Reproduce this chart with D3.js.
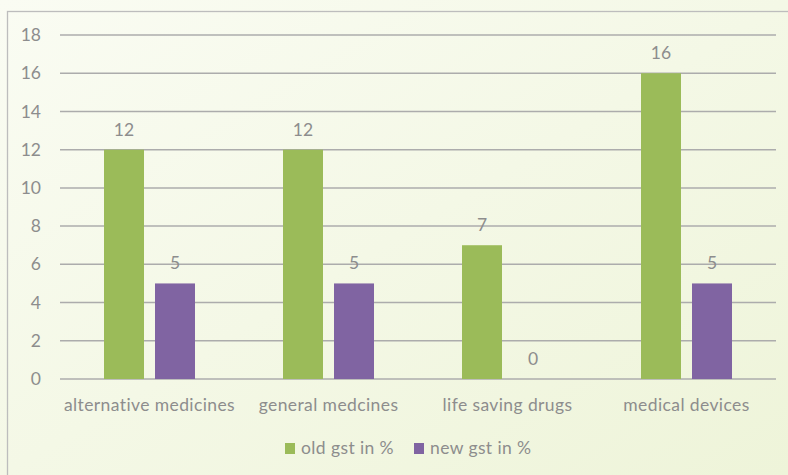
<!DOCTYPE html>
<html>
<head>
<meta charset="utf-8">
<script src="https://cdn.jsdelivr.net/npm/d3@7"></script>
<style>
  html, body { margin: 0; padding: 0; background: #fff; }
  svg { display: block; font-family: Lato, "Open Sans", sans-serif; }
</style>
</head>
<body>
<svg class="barsvg" width="788" height="475"></svg>
<script>
var categories = ["alternative medicines", "general medcines", "life saving drugs", "medical devices"];
var seriesNames = ["old gst in %", "new gst in %"];
var oldGst = [12, 12, 7, 16];
var newGst = [5, 5, 0, 5];
var yTicks = [0, 2, 4, 6, 8, 10, 12, 14, 16, 18];
var colors = ["#9bbb59", "#8064a2"];

var svg = d3.select(".barsvg"),
    width = +svg.attr("width"),
    height = +svg.attr("height");

var textColor = "#8d8d8d";
var fontSize = "17.5px";

// background gradient + frame
var defs = svg.append("defs");
var grad = defs.append("linearGradient")
    .attr("id", "bg")
    .attr("x1", "0").attr("y1", "0")
    .attr("x2", "1").attr("y2", "1");
grad.append("stop").attr("offset", "0%").attr("stop-color", "#fafcf3");
grad.append("stop").attr("offset", "100%").attr("stop-color", "#eef4d9");

svg.append("rect")
    .attr("x", 0).attr("y", 0)
    .attr("width", width).attr("height", height)
    .attr("fill", "url(#bg)");
svg.append("rect")
    .attr("x", 7.5).attr("y", 11.5)
    .attr("width", 820).attr("height", 520)
    .attr("fill", "none")
    .attr("stroke", "#bdbdbd")
    .attr("stroke-width", 1.3);

var plot = { left: 60, right: 776, top: 35, bottom: 379 };

var xScale = d3.scaleBand()
    .domain(categories)
    .range([plot.left, plot.right]);

var yScale = d3.scaleLinear()
    .domain([0, 18])
    .range([plot.bottom, plot.top]);

var barW = 40, barGap = 11;

var g = svg.append("g");

// gridlines
g.append("g")
    .selectAll("line")
    .data(yTicks)
    .enter().append("line")
    .attr("x1", plot.left)
    .attr("x2", plot.right)
    .attr("y1", function(d) { return yScale(d); })
    .attr("y2", function(d) { return yScale(d); })
    .attr("stroke", "#acacac")
    .attr("stroke-width", 1.5);

// y axis labels
var yAxis = g.append("g")
    .attr("transform", "translate(" + 41 + ",0)")
    .call(d3.axisLeft(yScale).tickValues(yTicks).tickSize(0).tickPadding(0));
yAxis.select(".domain").remove();
yAxis.selectAll("text")
    .attr("fill", textColor)
    .style("font-size", fontSize)
    .style("font-family", "Lato, 'Open Sans', sans-serif");

// x axis labels
var xAxis = g.append("g")
    .attr("transform", "translate(0," + plot.bottom + ")")
    .call(d3.axisBottom(xScale).tickSize(0));
xAxis.select(".domain").remove();
xAxis.selectAll("text")
    .attr("y", 32)
    .attr("dy", 0)
    .attr("fill", textColor)
    .style("font-size", fontSize)
    .style("letter-spacing", "0.4px")
    .style("font-family", "Lato, 'Open Sans', sans-serif");

var series = [oldGst, newGst];

series.forEach(function(vals, si) {
    var offset = si === 0 ? -(barW + barGap / 2) : barGap / 2;
    function bx(d, i) {
        return xScale(categories[i]) + xScale.bandwidth() / 2 + offset;
    }
    g.append("g")
        .selectAll("rect")
        .data(vals)
        .enter().append("rect")
        .attr("x", bx)
        .attr("y", function(d) { return yScale(d); })
        .attr("width", barW)
        .attr("height", function(d) { return plot.bottom - yScale(d); })
        .attr("fill", colors[si]);

    g.append("g")
        .selectAll("text")
        .data(vals)
        .enter().append("text")
        .attr("x", function(d, i) { return bx(d, i) + barW / 2; })
        .attr("y", function(d) { return yScale(d) - 14; })
        .attr("text-anchor", "middle")
        .attr("fill", textColor)
        .style("font-size", fontSize)
        .text(function(d) { return d; });
});

// legend
var legend = svg.append("g").attr("transform", "translate(285,454)");
var legendX = [0, 129];
seriesNames.forEach(function(name, i) {
    var item = legend.append("g").attr("transform", "translate(" + legendX[i] + ",0)");
    item.append("rect")
        .attr("x", 0).attr("y", -11)
        .attr("width", 10).attr("height", 11)
        .attr("fill", colors[i]);
    item.append("text")
        .attr("x", 16)
        .attr("y", 0)
        .attr("fill", textColor)
        .style("font-size", fontSize)
        .style("letter-spacing", "0.4px")
        .text(name);
});
</script>
</body>
</html>
